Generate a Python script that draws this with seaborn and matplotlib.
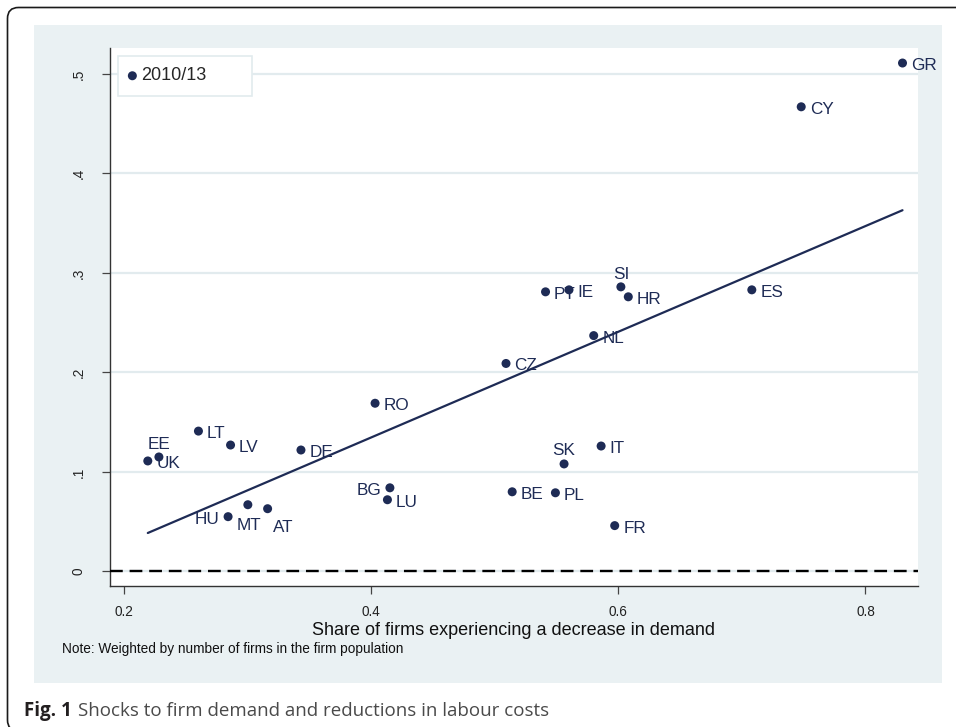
import numpy as np
import pandas as pd
import seaborn as sns
import matplotlib.pyplot as plt
from matplotlib.patches import Rectangle, FancyBboxPatch
from matplotlib.transforms import IdentityTransform

# ---------------------------------------------------------------------------
# Data
# ---------------------------------------------------------------------------
countries = ["GR", "CY", "PT", "IE", "SI", "HR", "ES", "NL", "CZ", "RO",
             "LT", "LV", "DE", "EE", "UK", "HU", "MT", "AT", "BG", "LU",
             "SK", "IT", "BE", "PL", "FR"]
share_decrease_demand = [0.830, 0.748, 0.541, 0.560, 0.602, 0.608, 0.708, 0.580,
                         0.509, 0.403, 0.260, 0.286, 0.343, 0.228, 0.219, 0.284,
                         0.300, 0.316, 0.415, 0.413, 0.556, 0.586, 0.514, 0.549,
                         0.597]
labour_cost_cut = [0.511, 0.467, 0.281, 0.283, 0.286, 0.276, 0.283, 0.237,
                   0.209, 0.169, 0.141, 0.127, 0.122, 0.115, 0.111, 0.055,
                   0.067, 0.063, 0.084, 0.072, 0.108, 0.126, 0.080, 0.079,
                   0.046]

# weighted linear fit shown in the chart
fit_intercept = -0.0777
fit_slope = 0.531

x_ticks = [0.2, 0.4, 0.6, 0.8]
x_tick_labels = ["0.2", "0.4", "0.6", "0.8"]
y_ticks = [0, 0.1, 0.2, 0.3, 0.4, 0.5]
y_tick_labels = ["0", ".1", ".2", ".3", ".4", ".5"]

# label placement (pixel offsets from the marker, Stata clock style)
label_pos = {
    "EE": (0, 14, "center"),
    "SK": (0, 14.5, "center"),
    "SI": (0, 13.5, "center"),
    "HU": (-9, -1.5, "right"),
    "BG": (-9, -1.3, "right"),
    "MT": (1, -19, "center"),
    "AT": (5, -17.5, "left"),
}
default_pos = (8.5, -1, "left")

NAVY = "#1E2B55"
BG = "#EAF1F3"
GRID = "#E2EBEE"

df = pd.DataFrame({"country": countries,
                   "share": share_decrease_demand,
                   "cost": labour_cost_cut})

sns.set_theme(style="white")
plt.rcParams["font.family"] = ["Liberation Sans", "DejaVu Sans"]

W, H = 956, 727
fig = plt.figure(figsize=(W / 100, H / 100), dpi=100)
fig.patch.set_facecolor("white")

# outer rounded frame and light graph region
fig.add_artist(FancyBboxPatch((7.5, -4), 980, H - 7.5 + 4,
                              boxstyle="round,pad=0,rounding_size=11",
                              transform=IdentityTransform(), facecolor="none",
                              edgecolor="#1a1a1a", lw=1.2, zorder=0))
fig.add_artist(Rectangle((34 / W, 1 - 683 / H), 908 / W, 658 / H,
                         transform=fig.transFigure, facecolor=BG,
                         edgecolor="none", zorder=0))

ax = fig.add_axes([110 / W, 1 - 585.7 / H, 807.7 / W, 537.4 / H])
ax.set_facecolor("white")
ax.set_axisbelow(True)

sns.scatterplot(data=df, x="share", y="cost", color=NAVY, s=42,
                edgecolor="none", label="2010/13", ax=ax, zorder=4)

xs = np.array([df["share"].min(), df["share"].max()])
ax.plot(xs, fit_intercept + fit_slope * xs, color=NAVY, lw=1.6, zorder=3)

ax.axhline(0, color="black", lw=1.7, ls=(0, (5.4, 2.9)), zorder=3)

for name, x, y in zip(df["country"], df["share"], df["cost"]):
    dx, dy, ha = label_pos.get(name, default_pos)
    ax.annotate(name, (x, y), xytext=(dx * 0.72, dy * 0.72),
                textcoords="offset points", ha=ha, va="center_baseline",
                fontsize=12.3, color=NAVY, annotation_clip=False, zorder=5)

ax.set_xlim(0.1884, 0.8423)
ax.set_ylim(-0.0144, 0.5258)
ax.set_xticks(x_ticks)
ax.set_xticklabels(x_tick_labels)
ax.set_yticks(y_ticks)
ax.set_yticklabels(y_tick_labels, rotation=90, va="center")
ax.yaxis.grid(True, color=GRID, lw=1.6)
ax.xaxis.grid(False)
ax.tick_params(axis="both", direction="out", length=5.8, width=0.9,
               color="#444444", labelsize=9.8, labelcolor="#222222",
               bottom=True, left=True)
ax.tick_params(axis="y", pad=12)
ax.tick_params(axis="x", pad=8)
for side in ["top", "right"]:
    ax.spines[side].set_visible(False)
for side in ["left", "bottom"]:
    ax.spines[side].set_color("#333333")
    ax.spines[side].set_linewidth(1.0)

ax.set_xlabel("Share of firms experiencing a decrease in demand",
              fontsize=13, labelpad=2.5, color="#111111")
ax.set_ylabel("")

# legend: only the scatter entry, in a wide Stata-like box
handles, labels = ax.get_legend_handles_labels()
keep = [i for i, l in enumerate(labels) if l == "2010/13"]
leg = ax.legend([handles[i] for i in keep], [labels[i] for i in keep],
                loc="upper left",
                bbox_to_anchor=(8 / 807.7, 1 - 8 / 537.4, 134 / 807.7, 0),
                mode="expand", borderaxespad=0, frameon=True, fancybox=False,
                edgecolor=GRID, facecolor="white", framealpha=1, fontsize=13,
                handlelength=0.35, handletextpad=0.3, borderpad=0.62)
leg.get_frame().set_linewidth(1.2)

fig.text(62 / W, 1 - 649 / H, "Note: Weighted by number of firms in the firm population",
         fontsize=9.8, ha="left", va="center", color="#111111")

cap1 = fig.text(24 / W, 1 - 716 / H, "Fig. 1", family="Open Sans", fontweight="bold",
                fontsize=13.5, ha="left", va="baseline", color="#231F20")
fig.canvas.draw()
bb = cap1.get_window_extent(renderer=fig.canvas.get_renderer())
fig.text((bb.x1 + 6) / W, 1 - 716 / H,
         "Shocks to firm demand and reductions in labour costs",
         family="Open Sans", fontsize=13.5, ha="left", va="baseline", color="#4a4a4a")

fig.savefig("out.png", dpi=100)
